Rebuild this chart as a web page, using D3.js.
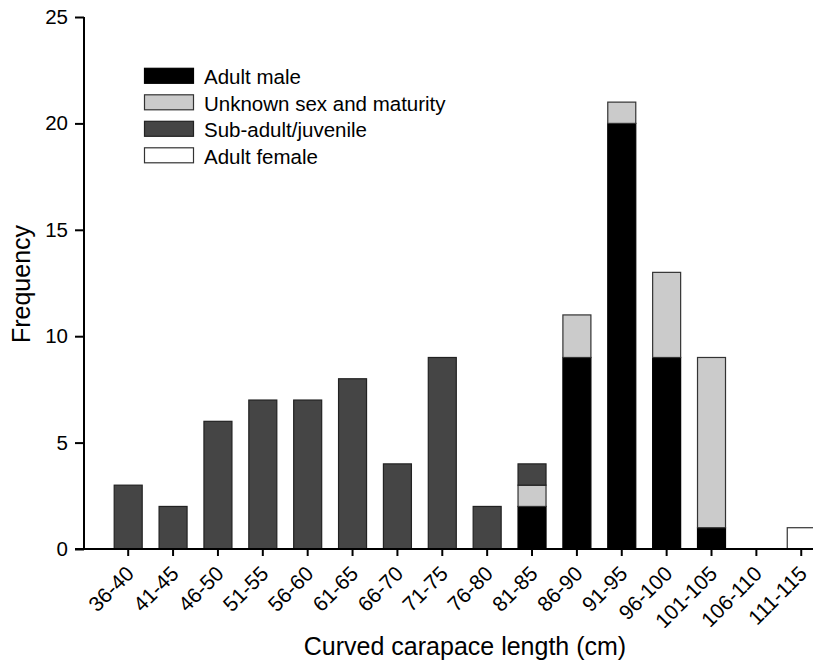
<!DOCTYPE html>
<html><head><meta charset="utf-8">
<script src="https://cdn.jsdelivr.net/npm/d3@7"></script>
<style>body{margin:0;background:#fff}svg{display:block}text{font-family:"Liberation Sans",Arial,sans-serif;fill:#000}</style>
</head><body><svg id="c" width="813" height="660"></svg>
<script>
const categories = ["36-40","41-45","46-50","51-55","56-60","61-65","66-70","71-75","76-80","81-85","86-90","91-95","96-100","101-105","106-110","111-115"];
const adultMale   = [0,0,0,0,0,0,0,0,0,2,9,20,9,1,0,0];
const unknownSex  = [0,0,0,0,0,0,0,0,0,1,2,1,4,8,0,0];
const subAdult    = [3,2,6,7,7,8,4,9,2,1,0,0,0,0,0,0];
const adultFemale = [0,0,0,0,0,0,0,0,0,0,0,0,0,0,0,1];
const seriesNames = ["Adult male","Unknown sex and maturity","Sub-adult/juvenile","Adult female"];
const yTicks = [0,5,10,15,20,25];

const colors = {"Adult male":"#000","Unknown sex and maturity":"#cbcbcb","Sub-adult/juvenile":"#454545","Adult female":"#fff"};
const strokes = {"Adult male":"#000","Unknown sex and maturity":"#333","Sub-adult/juvenile":"#222","Adult female":"#333"};

const svg = d3.select("#c");
const step = 44.87;
const x = d3.scaleBand().domain(categories).range([128.2 - step/2, 128.2 - step/2 + 16*step]).paddingInner(0.376).paddingOuter(0.188);
const y = d3.scaleLinear().domain([0,25]).range([549,17]);

const table = categories.map((c,i)=>({cat:c,"Adult male":adultMale[i],"Unknown sex and maturity":unknownSex[i],"Sub-adult/juvenile":subAdult[i],"Adult female":adultFemale[i]}));
const stack = d3.stack().keys(seriesNames)(table);

const g = svg.append("g");
stack.forEach(layer=>{
  g.selectAll(null).data(layer.filter(d=>d[1]>d[0])).enter().append("rect")
    .attr("x",d=>x(d.data.cat)).attr("width",x.bandwidth())
    .attr("y",d=>y(d[1])).attr("height",d=>y(d[0])-y(d[1]))
    .attr("fill",colors[layer.key]).attr("stroke",strokes[layer.key]).attr("stroke-width",1.2);
});

// y axis
const ya = svg.append("g").attr("transform","translate(84,0)")
  .call(d3.axisLeft(y).tickValues(yTicks).tickSize(9).tickPadding(7));
ya.select(".domain").attr("stroke","#000").attr("stroke-width",2).attr("d","M0,"+y(25)+"V"+y(0));
ya.selectAll(".tick line").attr("stroke","#000").attr("stroke-width",2);
ya.selectAll(".tick text").attr("font-size",20).style("font-size","20.5px").attr("fill","#000");

// x axis
const xa = svg.append("g").attr("transform","translate(0,549)")
  .call(d3.axisBottom(x).tickSize(7).tickPadding(4));
xa.select(".domain").attr("stroke","#000").attr("stroke-width",2).attr("d","M75,0H813");
xa.selectAll(".tick line").attr("stroke","#000").attr("stroke-width",2);
xa.selectAll(".tick text").attr("font-size",21).style("font-size","21px").attr("fill","#000")
  .attr("text-anchor","end").attr("dy",null).attr("y",null)
  .attr("transform","translate(7,26) rotate(-45)");

// titles
svg.append("text").attr("x",465).attr("y",655).attr("text-anchor","middle").style("font-size","25px").text("Curved carapace length (cm)");
svg.append("text").attr("transform","translate(30,284) rotate(-90)").attr("text-anchor","middle").style("font-size","25px").text("Frequency");

// legend
const lg = svg.append("g");
seriesNames.forEach((s,i)=>{
  const top = 68.3 + i*26.5;
  lg.append("rect").attr("x",144.5).attr("y",top).attr("width",49).attr("height",15)
    .attr("fill",colors[s]).attr("stroke",strokes[s]).attr("stroke-width",1.2);
  lg.append("text").attr("x",204).attr("y",top+15.7).style("font-size","20.5px").text(s);
});
</script></body></html>
